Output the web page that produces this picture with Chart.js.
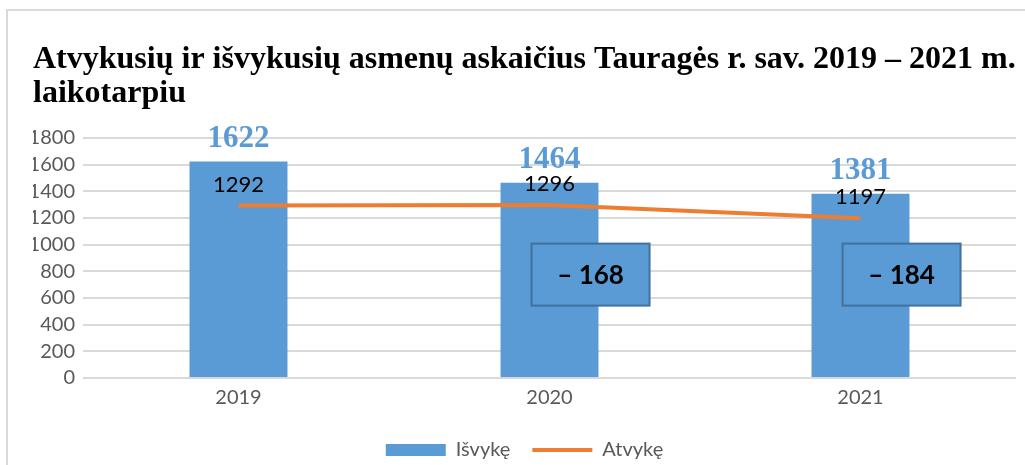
<!DOCTYPE html>
<html lang="lt">
<head>
    <meta charset="UTF-8">
    <title>Atvykusių ir išvykusių asmenų skaičius</title>
    <script src="https://cdn.jsdelivr.net/npm/chart.js"></script>
    <style>
        html, body { margin: 0; padding: 0; background: #fff; }
        #wrap { position: relative; width: 1025px; height: 465px; }
    </style>
</head>
<body>
    <div id="wrap"><canvas id="migrationChart" width="1025" height="465"></canvas></div>
    <script>
        const years = ['2019', '2020', '2021'];
        const departed = [1622, 1464, 1381];   // Išvykę
        const arrived = [1292, 1296, 1197];    // Atvykę
        const netChange = [null, -168, -184];  // shown in the boxes
        const yTicks = [0, 200, 400, 600, 800, 1000, 1200, 1400, 1600, 1800];

        const blue = '#5b9bd5';
        const orange = '#ed7d31';
        const sans = 'Lato, "Open Sans", sans-serif';

        // outer frame of the chart object
        const framePlugin = {
            id: 'frame',
            beforeDraw(chart) {
                const ctx = chart.ctx;
                ctx.save();
                ctx.fillStyle = '#fff';
                ctx.fillRect(0, 0, chart.width, chart.height);
                ctx.strokeStyle = '#d9d9d9';
                ctx.lineWidth = 2;
                ctx.strokeRect(7, 10, chart.width + 20, chart.height + 20);
                ctx.restore();
            }
        };

        // value labels and the difference boxes
        const labelsPlugin = {
            id: 'valueLabels',
            afterDatasetsDraw(chart) {
                const ctx = chart.ctx;
                const x = chart.scales.x;
                const y = chart.scales.y;
                const barMeta = chart.getDatasetMeta(0);
                const lineMeta = chart.getDatasetMeta(1);
                ctx.save();
                ctx.textAlign = 'center';
                ctx.textBaseline = 'middle';

                barMeta.data.forEach((bar, i) => {
                    ctx.font = 'bold 31px "Liberation Serif", "Times New Roman", serif';
                    ctx.fillStyle = blue;
                    ctx.fillText(departed[i], bar.x, bar.y - 23);
                });

                lineMeta.data.forEach((pt, i) => {
                    ctx.font = '22px ' + sans;
                    ctx.fillStyle = '#000';
                    ctx.fillText(arrived[i], x.getPixelForValue(i), pt.y - 21);
                });

                const step = x.getPixelForValue(1) - x.getPixelForValue(0);
                netChange.forEach((v, i) => {
                    if (v === null) return;
                    const cx = x.getPixelForValue(i) + step * 0.132;
                    const cy = y.getPixelForValue(775);
                    const w = 118, h = 62;
                    ctx.fillStyle = blue;
                    ctx.fillRect(cx - w / 2, cy - h / 2, w, h);
                    ctx.strokeStyle = '#41719c';
                    ctx.lineWidth = 2;
                    ctx.strokeRect(cx - w / 2, cy - h / 2, w, h);
                    ctx.font = 'bold 26px ' + sans;
                    ctx.fillStyle = '#000';
                    ctx.fillText('\u2013 ' + Math.abs(v), cx, cy + 1);
                });
                ctx.restore();
            }
        };

        const ctx = document.getElementById('migrationChart').getContext('2d');
        new Chart(ctx, {
            data: {
                labels: years,
                datasets: [{
                    type: 'bar',
                    label: 'Išvykę',
                    data: departed,
                    backgroundColor: blue,
                    categoryPercentage: 1,
                    barPercentage: 0.315,
                    order: 2
                }, {
                    type: 'line',
                    label: 'Atvykę',
                    data: arrived,
                    borderColor: orange,
                    borderWidth: 4,
                    pointRadius: 0,
                    tension: 0,
                    order: 1
                }]
            },
            options: {
                responsive: false,
                animation: false,
                layout: { padding: { left: 33, right: 9, top: 0, bottom: -5 } },
                plugins: {
                    tooltip: { enabled: false },
                    title: {
                        display: true,
                        align: 'start',
                        text: ['Atvykusių ir išvykusių asmenų askaičius Tauragės r. sav. 2019 – 2021 m.', 'laikotarpiu'],
                        color: '#000',
                        font: { family: '"Liberation Serif", "Times New Roman", serif', size: 32, weight: 'bold', lineHeight: 1.06 },
                        padding: { top: 43, bottom: 27 }
                    },
                    legend: {
                        position: 'bottom',
                        labels: {
                            usePointStyle: true,
                            pointStyleWidth: 60,
                            boxHeight: 12,
                            padding: 22,
                            color: '#595959',
                            font: { family: sans, size: 20 },
                            generateLabels: () => [
                                { text: 'Išvykę', fillStyle: blue, strokeStyle: blue, lineWidth: 0, pointStyle: 'rect', fontColor: '#595959', datasetIndex: 0 },
                                { text: 'Atvykę', fillStyle: orange, strokeStyle: orange, lineWidth: 4, pointStyle: 'line', fontColor: '#595959', datasetIndex: 1 }
                            ]
                        }
                    }
                },
                scales: {
                    x: {
                        grid: { display: false, drawTicks: false },
                        border: { display: false },
                        ticks: { color: '#595959', font: { family: sans, size: 20 }, padding: 8 }
                    },
                    y: {
                        min: 0,
                        max: 1800,
                        afterFit(scale) { scale.width = 50; },
                        afterBuildTicks(scale) { scale.ticks = yTicks.map(v => ({ value: v })); },
                        grid: { color: '#d9d9d9', lineWidth: 2, drawTicks: false },
                        border: { display: false },
                        ticks: {
                            autoSkip: false,
                            color: '#595959',
                            font: { family: sans, size: 20 },
                            padding: 8,
                            callback: v => String(v)
                        }
                    }
                }
            },
            plugins: [framePlugin, labelsPlugin]
        });
    </script>
</body>
</html>
